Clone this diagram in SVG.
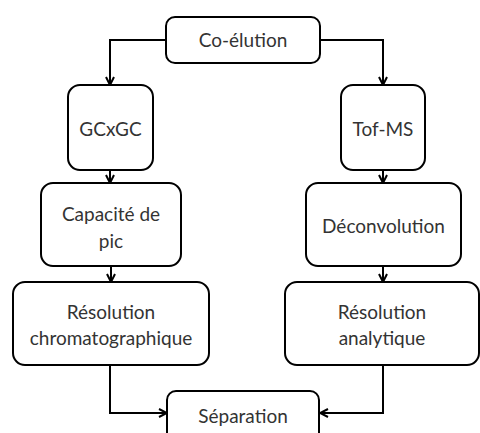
<svg xmlns="http://www.w3.org/2000/svg" width="480" height="433" viewBox="0 0 480 433">
<defs>
<marker id="arr" viewBox="0 0 10 10" refX="9" refY="5" markerWidth="10" markerHeight="10" markerUnits="userSpaceOnUse" orient="auto">
<path d="M1,1 L9,5 L1,9" fill="none" stroke="#000" stroke-width="2"/>
</marker>
<style>
.box{fill:#fff;stroke:#000;stroke-width:2}
.t{font-family:Lato,"Open Sans","Liberation Sans",sans-serif;font-size:19px;fill:#333;text-anchor:middle}
.c{fill:none;stroke:#000;stroke-width:2}
</style>
</defs>
<rect width="480" height="433" fill="#fff"/>
<g id="connectors">
<path class="c" d="M166,40 H110 V85" marker-end="url(#arr)"/>
<path class="c" d="M320,40 H383 V85" marker-end="url(#arr)"/>
<path class="c" d="M110,170 V183" marker-end="url(#arr)"/>
<path class="c" d="M383,170 V183" marker-end="url(#arr)"/>
<path class="c" d="M111,266 V282" marker-end="url(#arr)"/>
<path class="c" d="M383,266 V282" marker-end="url(#arr)"/>
<path class="c" d="M110,365 V413 H167" marker-end="url(#arr)"/>
<path class="c" d="M383,365 V413 H320" marker-end="url(#arr)"/>
</g>
<g id="coelution"><rect class="box" x="166" y="17" width="154" height="46" rx="9"/><text class="t" x="243" y="47">Co-élution</text></g>
<g id="gcxgc"><rect class="box" x="68" y="85" width="85" height="85" rx="12"/><text class="t" x="110.5" y="136">GCxGC</text></g>
<g id="tofms"><rect class="box" x="341" y="85" width="84" height="85" rx="12"/><text class="t" x="383" y="136">Tof-MS</text></g>
<g id="capacite"><rect class="box" x="41" y="183" width="140" height="83" rx="12"/><text class="t" x="111" y="221">Capacité de</text><text class="t" x="111" y="248">pic</text></g>
<g id="deconvolution"><rect class="box" x="306" y="183" width="155" height="83" rx="12"/><text class="t" x="383.5" y="233">Déconvolution</text></g>
<g id="reschrom"><rect class="box" x="13" y="282" width="196" height="83" rx="12"/><text class="t" x="111" y="319">Résolution</text><text class="t" x="111" y="345">chromatographique</text></g>
<g id="resana"><rect class="box" x="285" y="282" width="194" height="83" rx="12"/><text class="t" x="382" y="319">Résolution</text><text class="t" x="382" y="345">analytique</text></g>
<g id="separation"><rect class="box" x="167" y="391" width="152" height="52" rx="9"/><text class="t" x="243" y="423">Séparation</text></g>
</svg>
